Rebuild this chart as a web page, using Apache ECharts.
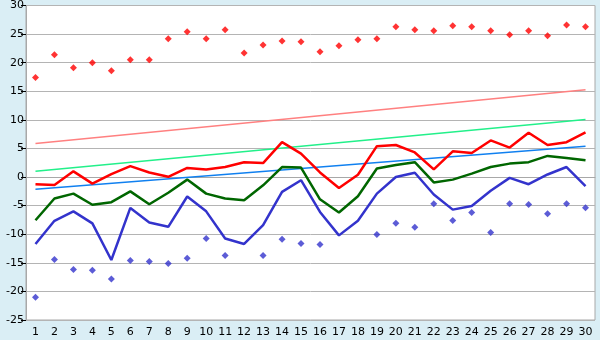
<!DOCTYPE html>
<html>
<head>
<meta charset="utf-8">
<script src="https://cdn.jsdelivr.net/npm/echarts@6/dist/echarts.min.js"></script>
<style>
  html, body { margin: 0; padding: 0; background: #daeef5; }
  #chart { width: 600px; height: 340px; }
</style>
</head>
<body>
<div id="chart"></div>
<script>
const days = ['1','2','3','4','5','6','7','8','9','10','11','12','13','14','15','16','17','18','19','20','21','22','23','24','25','26','27','28','29','30']
const yTicks = [-25, 30, 5]

// absolute max / min (markers)
const maxPoints = [17.4, 21.4, 19.1, 20.0, 18.6, 20.5, 20.5, 24.2, 25.4, 24.2, 25.75, 21.7, 23.1, 23.8, 23.65, 21.9, 22.95, 24.0, 24.2, 26.3,
  25.75, 25.6, 26.45, 26.3, 25.6, 24.9, 25.6, 24.7, 26.6, 26.3]
const minPoints = [-21.0, -14.4, -16.15, -16.3, -17.85, -14.6, -14.75, -15.1, -14.2, -10.75, -13.7, null, -13.7, -10.9, -11.6, -11.8, null, null, -10.05, -8.1,
  -8.8, -4.65, -7.6, -6.2, -9.7, -4.65, -4.8, -6.4, -4.65, -5.35]

// lines
const highLine = [-1.25, -1.4, 1.0, -1.15, 0.5, 1.9, 0.8, 0.05, 1.6, 1.3, 1.75, 2.6, 2.45, 6.1, 4.1, 0.8, -1.9, 0.4, 5.4, 5.6,
  4.3, 1.35, 4.5, 4.2, 6.4, 5.15, 7.75, 5.6, 6.1, 7.8]
const meanLine = [-7.55, -3.75, -2.9, -4.85, -4.4, -2.5, -4.75, -2.75, -0.45, -2.9, -3.75, -4.05, -1.45, 1.75, 1.65, -3.9, -6.2, -3.35, 1.5, 2.1,
  2.6, -0.95, -0.45, 0.6, 1.75, 2.35, 2.6, 3.7, 3.35, 2.95]
const lowLine = [-11.7, -7.65, -6.0, -8.1, -14.5, -5.4, -7.95, -8.7, -3.4, -6.0, -10.75, -11.7, -8.4, -2.6, -0.55, -6.1, -10.2, -7.65, -2.9, 0.0,
  0.75, -3.05, -5.7, -5.05, -2.4, -0.15, -1.25, 0.45, 1.75, -1.6]

// trend lines: value at first and last day
const trendHigh = [5.85, 15.25]
const trendMean = [1.0, 10.05]
const trendLow = [-2.15, 5.4]

const chart = echarts.init(document.getElementById('chart'))

const txt = { color: '#000', fontSize: 11, fontFamily: 'DejaVu Sans' }
const ends = (arr) => [[0, arr[0]], [days.length - 1, arr[1]]]

const trend = (data, color) => ({
  type: 'line',
  data: ends(data),
  symbol: 'none',
  silent: true,
  z: 1,
  lineStyle: { color: color, width: 1.5 },
})
const line = (data, color) => ({
  type: 'line',
  data: data,
  symbol: 'none',
  z: 3,
  lineStyle: { color: color, width: 2.5 },
})
const dots = (data, color) => ({
  type: 'scatter',
  data: data,
  symbol: 'diamond',
  symbolSize: 7,
  z: 4,
  itemStyle: { color: color },
})

chart.setOption({
  backgroundColor: '#daeef5',
  animation: false,
  grid: {
    left: 26,
    right: 5,
    top: 5,
    bottom: 20,
    show: true,
    backgroundColor: '#fff',
    borderColor: '#a8a8a8',
    borderWidth: 1,
  },
  xAxis: {
    type: 'category',
    data: days,
    boundaryGap: true,
    axisLine: { lineStyle: { color: '#a8a8a8' } },
    axisTick: { alignWithLabel: true, length: 5, lineStyle: { color: '#000' } },
    axisLabel: Object.assign({ margin: 7, interval: 0 }, txt),
    splitLine: { show: false },
  },
  yAxis: {
    type: 'value',
    min: yTicks[0],
    max: yTicks[1],
    interval: yTicks[2],
    axisLine: { show: true, lineStyle: { color: '#a8a8a8' } },
    axisTick: { show: true, length: 5, lineStyle: { color: '#000' } },
    axisLabel: Object.assign({ margin: 2 }, txt),
    splitLine: { lineStyle: { color: '#b4b4b4', width: 1 } },
  },
  series: [
    trend(trendHigh, '#ff8080'),
    trend(trendMean, '#22f08a'),
    trend(trendLow, '#1080f0'),
    line(highLine, '#ff0000'),
    line(meanLine, '#006600'),
    line(lowLine, '#3333cc'),
    dots(maxPoints, '#ff0000'),
    dots(minPoints, '#3333cc'),
  ],
})
</script>
</body>
</html>
